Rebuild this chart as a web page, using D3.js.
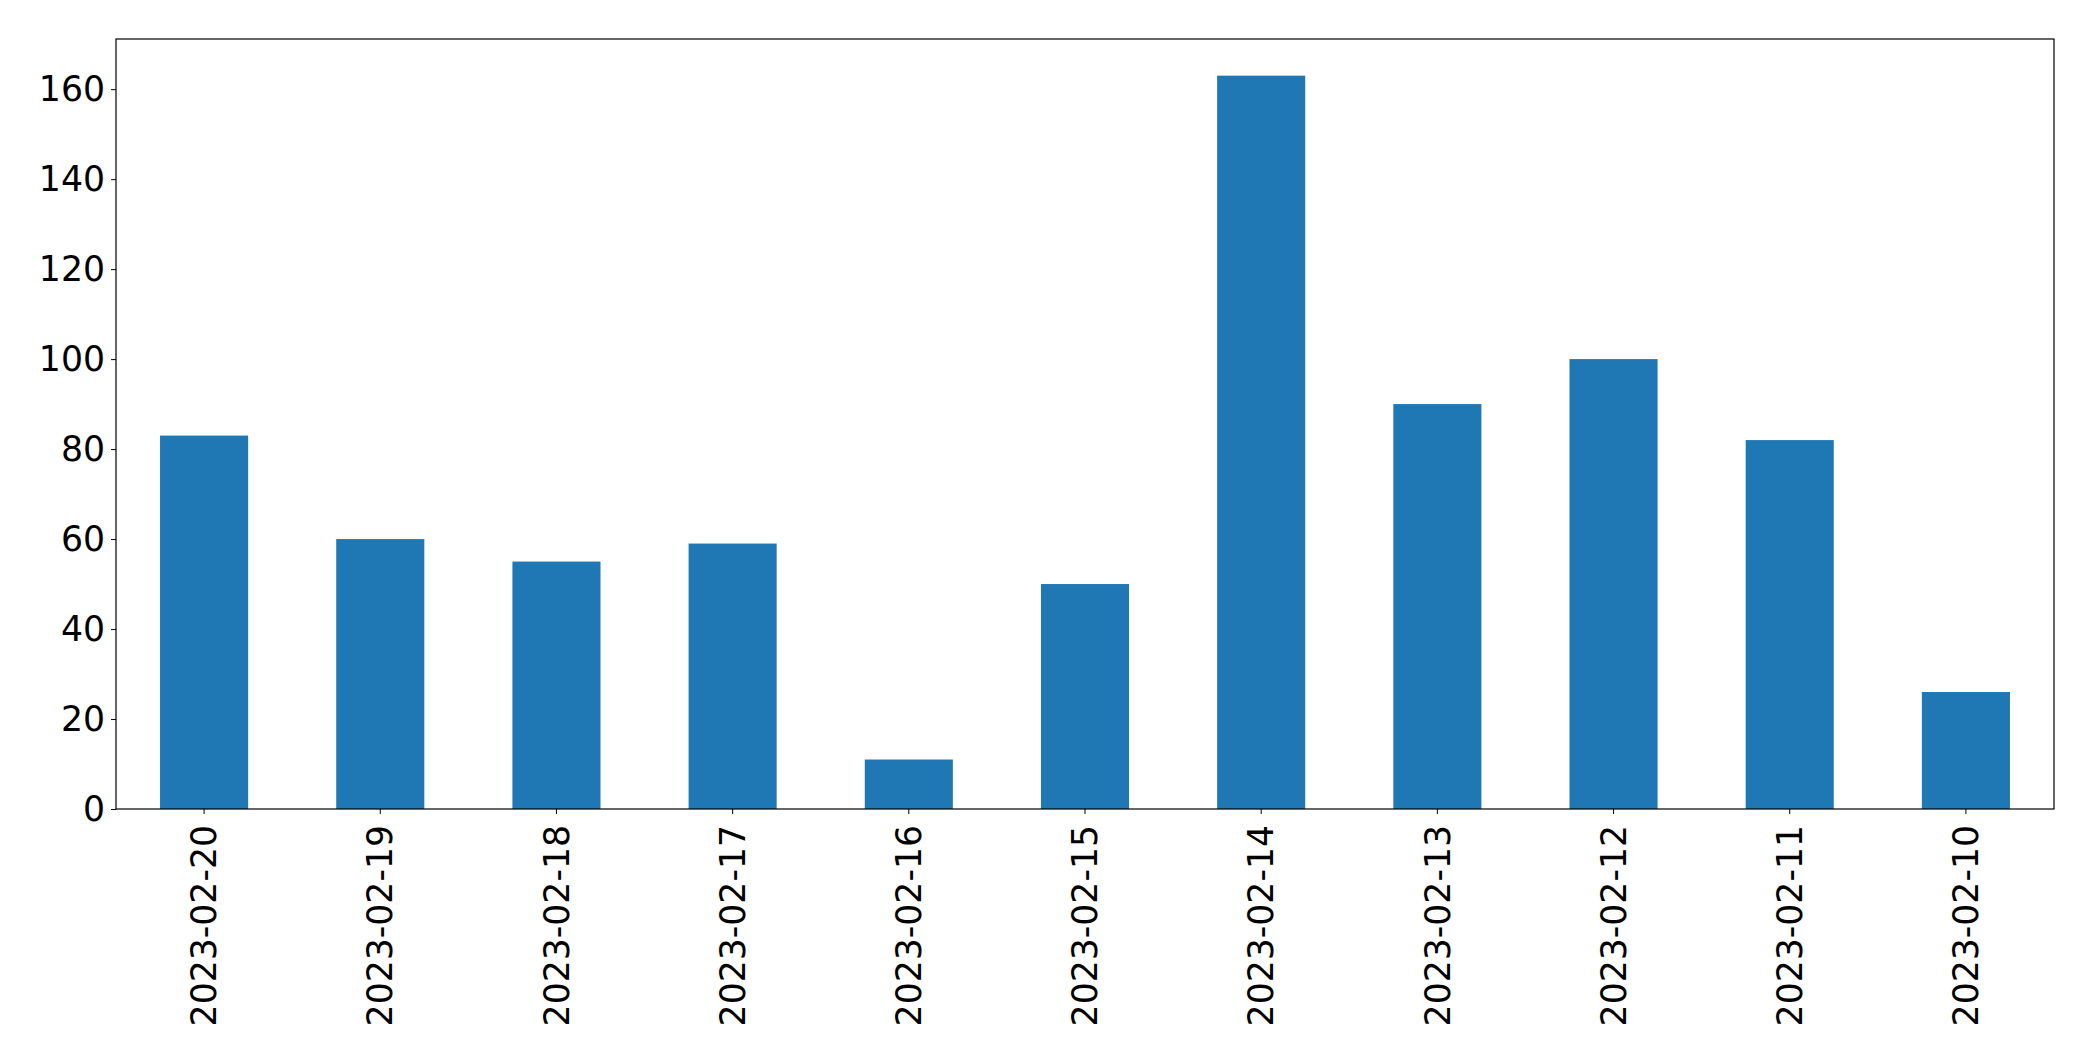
<!DOCTYPE html>
<html>
<head>
<meta charset="utf-8">
<script src="https://cdn.jsdelivr.net/npm/d3@7"></script>
<style>
  html, body { margin: 0; padding: 0; background: #fff; }
  svg { display: block; }
  text { font-family: "DejaVu Sans", sans-serif; }
</style>
</head>
<body>
<svg id="chart" width="2093" height="1061"></svg>
<script>
const categories = ["2023-02-20","2023-02-19","2023-02-18","2023-02-17","2023-02-16","2023-02-15","2023-02-14","2023-02-13","2023-02-12","2023-02-11","2023-02-10"];
const values = [83, 60, 55, 59, 11, 50, 163, 90, 100, 82, 26];
const yTicks = [0, 20, 40, 60, 80, 100, 120, 140, 160];

const W = 2093, H = 1061;
const m = { left: 116, right: 2054, top: 39, bottom: 809 };
const fontSize = 34.67;
const tickLen = 5, tickPad = 6;

const svg = d3.select("#chart");

const x = d3.scaleBand()
  .domain(categories)
  .range([m.left, m.right])
  .paddingInner(0.5)
  .paddingOuter(0.25);

const yMax = d3.max(values) * 1.05;
const y = d3.scaleLinear().domain([0, yMax]).range([m.bottom, m.top]);

// bars
svg.append("g").selectAll("rect")
  .data(values)
  .join("rect")
  .attr("x", (d, i) => x(categories[i]))
  .attr("width", x.bandwidth())
  .attr("y", d => y(d))
  .attr("height", d => y(0) - y(d))
  .attr("fill", "#1f77b4");

// y axis
const yAxis = svg.append("g")
  .attr("transform", `translate(${m.left},0)`)
  .call(d3.axisLeft(y).tickValues(yTicks).tickFormat(d3.format("d")).tickSize(tickLen).tickPadding(tickPad));
yAxis.select(".domain").remove();
yAxis.selectAll("line").attr("stroke", "#000").attr("stroke-width", 1);
yAxis.selectAll("text").attr("font-size", fontSize).attr("font-family", "DejaVu Sans, sans-serif").attr("fill", "#000");

// x axis
const xAxis = svg.append("g")
  .attr("transform", `translate(0,${m.bottom})`)
  .call(d3.axisBottom(x).tickSize(tickLen).tickPadding(tickPad));
xAxis.select(".domain").remove();
xAxis.selectAll("line").attr("stroke", "#000").attr("stroke-width", 1);
xAxis.selectAll("text")
  .attr("font-size", fontSize)
  .attr("font-family", "DejaVu Sans, sans-serif")
  .attr("fill", "#000")
  .attr("transform", "rotate(-90)")
  .attr("x", -(tickLen + tickPad + 5))
  .attr("y", 0)
  .attr("dy", "0.35em")
  .style("text-anchor", "end");

// frame
svg.append("rect")
  .attr("x", m.left)
  .attr("y", m.top)
  .attr("width", m.right - m.left)
  .attr("height", m.bottom - m.top)
  .attr("fill", "none")
  .attr("stroke", "#000")
  .attr("stroke-width", 1.2);
</script>
</body>
</html>
